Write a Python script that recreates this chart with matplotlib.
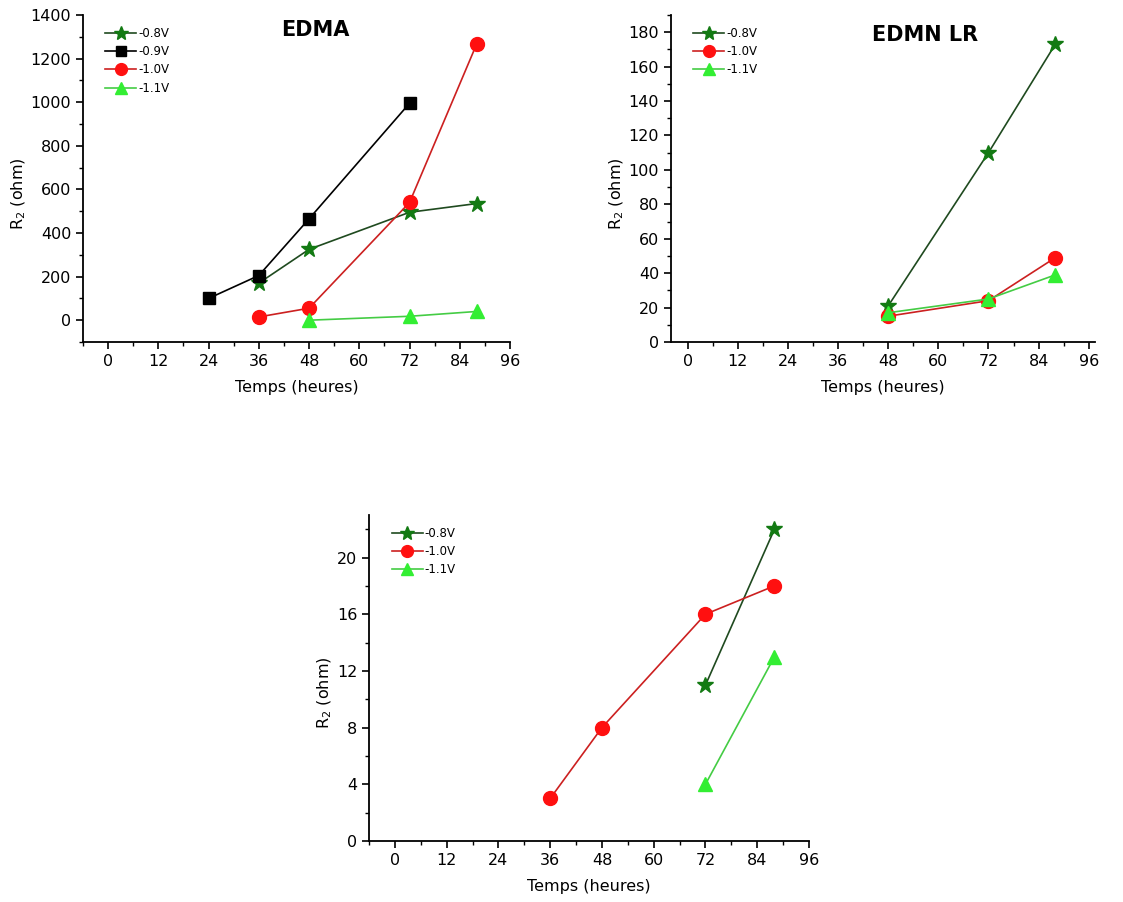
import matplotlib.pyplot as plt
from matplotlib.ticker import MultipleLocator

plt.rcParams['font.family'] = ['DejaVu Sans']

# EDMA
edma_x08 = [36, 48, 72, 88]
edma_y08 = [170, 325, 495, 535]
edma_x09 = [24, 36, 48, 72]
edma_y09 = [100, 205, 465, 995]
edma_x10 = [36, 48, 72, 88]
edma_y10 = [15, 55, 540, 1265]
edma_x11 = [48, 72, 88]
edma_y11 = [0, 18, 40]

# EDMN LR
lr_x = [48, 72, 88]
lr_y08 = [21, 110, 173]
lr_y10 = [15, 24, 49]
lr_y11 = [17, 25, 39]

# third panel
c_x08 = [72, 88]
c_y08 = [11, 22]
c_x10 = [36, 48, 72, 88]
c_y10 = [3, 8, 16, 18]
c_x11 = [72, 88]
c_y11 = [4, 13]

xticks = [0, 12, 24, 36, 48, 60, 72, 84, 96]

DKG = '#137a13'
RED = '#ff1010'
LTG = '#33ee33'

styles = {
    '-0.8V': dict(color='#1f4a1f', marker='*', ms=12, mfc=DKG, mec=DKG),
    '-0.9V': dict(color='black', marker='s', ms=9, mfc='black', mec='black'),
    '-1.0V': dict(color='#cc2020', marker='o', ms=10, mfc=RED, mec=RED),
    '-1.1V': dict(color='#44cc44', marker='^', ms=10, mfc=LTG, mec=LTG),
}

fig = plt.figure(figsize=(11.23, 9.02), dpi=100)
W, H = 1123, 902


def make_ax(l, r, t, b):
    return fig.add_axes([l / W, 1 - b / H, (r - l) / W, (b - t) / H])


def style_ax(ax):
    ax.spines['top'].set_visible(False)
    ax.spines['right'].set_visible(False)
    ax.spines['left'].set_linewidth(1.3)
    ax.spines['bottom'].set_linewidth(1.3)
    ax.set_xticks(xticks)
    ax.xaxis.set_minor_locator(MultipleLocator(6))
    ax.tick_params(which='major', direction='out', length=5, width=1.2, labelsize=11.5)
    ax.tick_params(which='minor', direction='out', length=3, width=1.0)
    ax.set_xlabel('Temps (heures)', fontsize=11.5, labelpad=8)
    ax.set_ylabel('R$_2$ (ohm)', fontsize=11.5, labelpad=2)
    ax.yaxis.label.set_y(0.455)
    ax.legend(loc='upper left', frameon=False, fontsize=8.5, handlelength=2.6,
              labelspacing=0.45, borderaxespad=0.6, handletextpad=0.2,
              markerscale=0.85, bbox_to_anchor=(0.025, 1.0))


# EDMA
ax1 = make_ax(83, 510, 15, 342)
ax1.plot(edma_x08, edma_y08, lw=1.2, label='-0.8V', **styles['-0.8V'])
ax1.plot(edma_x09, edma_y09, lw=1.2, label='-0.9V', **styles['-0.9V'])
ax1.plot(edma_x10, edma_y10, lw=1.2, label='-1.0V', **styles['-1.0V'])
ax1.plot(edma_x11, edma_y11, lw=1.2, label='-1.1V', **styles['-1.1V'])
ax1.set_xlim(-6, 96)
ax1.set_ylim(-100, 1400)
ax1.set_yticks(range(0, 1401, 200))
ax1.yaxis.set_minor_locator(MultipleLocator(100))
style_ax(ax1)
ax1.text(0.545, 0.955, 'EDMA', transform=ax1.transAxes, fontsize=15,
         fontweight='bold', ha='center', va='center')

# EDMN LR
ax2 = make_ax(671, 1095, 15, 342)
ax2.plot(lr_x, lr_y08, lw=1.2, label='-0.8V', **styles['-0.8V'])
ax2.plot(lr_x, lr_y10, lw=1.2, label='-1.0V', **styles['-1.0V'])
ax2.plot(lr_x, lr_y11, lw=1.2, label='-1.1V', **styles['-1.1V'])
ax2.set_xlim(-4, 97.5)
ax2.set_ylim(0, 190)
ax2.set_yticks(range(0, 181, 20))
ax2.yaxis.set_minor_locator(MultipleLocator(10))
style_ax(ax2)
ax2.text(0.6, 0.94, 'EDMN LR', transform=ax2.transAxes, fontsize=15,
         fontweight='bold', ha='center', va='center')

# third panel
ax3 = make_ax(369, 809, 515, 841)
ax3.plot(c_x08, c_y08, lw=1.2, label='-0.8V', **styles['-0.8V'])
ax3.plot(c_x10, c_y10, lw=1.2, label='-1.0V', **styles['-1.0V'])
ax3.plot(c_x11, c_y11, lw=1.2, label='-1.1V', **styles['-1.1V'])
ax3.set_xlim(-6, 96)
ax3.set_ylim(0, 23)
ax3.set_yticks(range(0, 21, 4))
ax3.yaxis.set_minor_locator(MultipleLocator(2))
style_ax(ax3)

fig.savefig('out.png', dpi=100)
